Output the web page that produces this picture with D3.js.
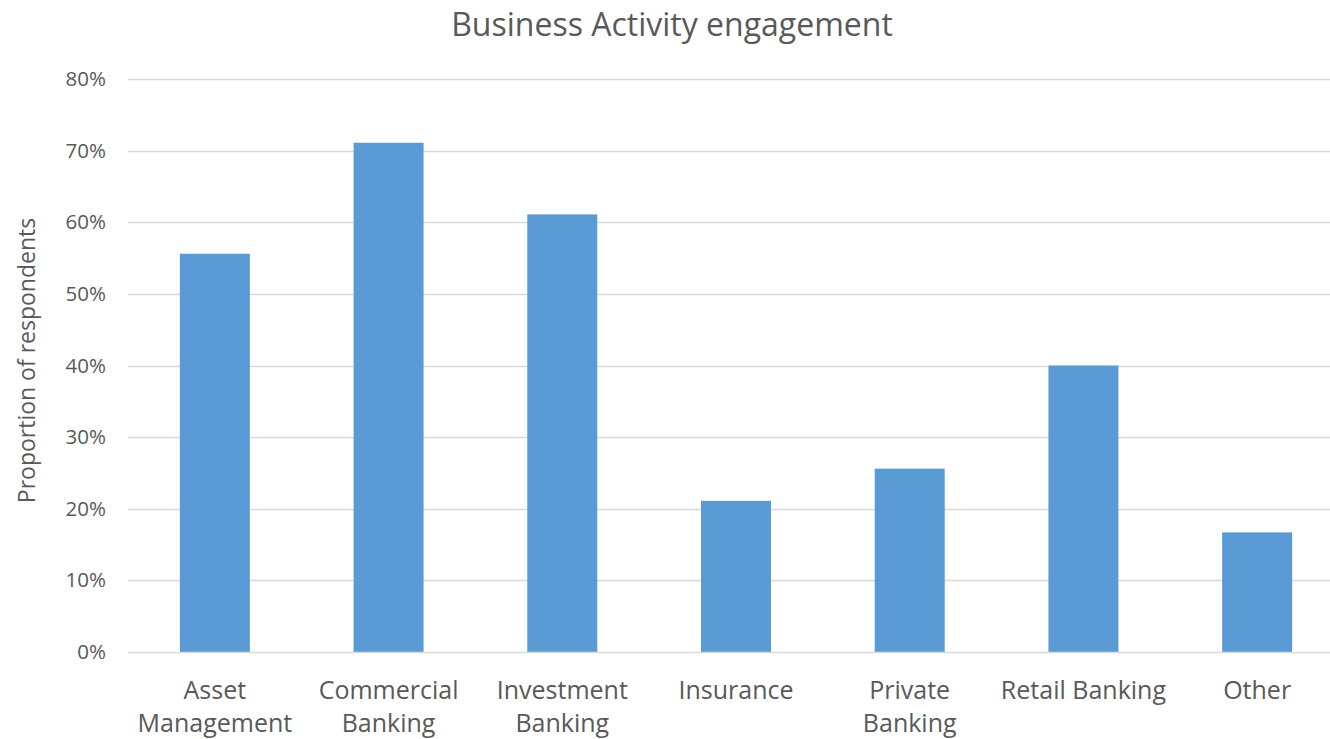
<!DOCTYPE html>
<html>
<head>
<meta charset="utf-8">
<script src="https://cdn.jsdelivr.net/npm/d3@7/dist/d3.min.js"></script>
<style>
  html, body { margin: 0; padding: 0; background: #fff; }
  svg { display: block; font-family: "Open Sans", "Noto Sans", sans-serif; }
  svg text { font-family: "Open Sans", "Noto Sans", sans-serif; }
</style>
</head>
<body>
<svg id="chart" width="1330" height="739"></svg>
<script>
// Share of respondents engaged in each business activity
const categories = ["Asset Management", "Commercial Banking", "Investment Banking", "Insurance", "Private Banking", "Retail Banking", "Other"];
const labelLines = [["Asset", "Management"], ["Commercial", "Banking"], ["Investment", "Banking"], ["Insurance"], ["Private", "Banking"], ["Retail Banking"], ["Other"]];
const values = [0.556, 0.711, 0.611, 0.211, 0.256, 0.400, 0.167];
const yTicks = [0, 0.1, 0.2, 0.3, 0.4, 0.5, 0.6, 0.7, 0.8];

const svg = d3.select("#chart");
const margin = { left: 128, right: -14, top: 79, bottom: 87 };
const W = 1330, H = 739;
const plotBottom = H - margin.bottom;
const fontStack = "\"Open Sans\", \"Noto Sans\", sans-serif";

const x = d3.scaleBand()
  .domain(categories)
  .range([margin.left, W - margin.right])
  .paddingInner(0.597)
  .paddingOuter(0.2985);

const y = d3.scaleLinear()
  .domain([0, 0.8])
  .range([plotBottom, margin.top]);

// Gridlines
svg.append("g")
  .selectAll("line")
  .data(yTicks.slice(1))
  .join("line")
  .attr("x1", margin.left)
  .attr("x2", W - margin.right)
  .attr("y1", d => Math.round(y(d)) + 0.5)
  .attr("y2", d => Math.round(y(d)) + 0.5)
  .attr("stroke", "#d9d9d9")
  .attr("stroke-width", 1.5);

// Bars
svg.append("g")
  .selectAll("rect")
  .data(categories)
  .join("rect")
  .attr("x", d => x(d))
  .attr("width", x.bandwidth())
  .attr("y", (d, i) => y(values[i]))
  .attr("height", (d, i) => plotBottom - y(values[i]))
  .attr("fill", "#5b9bd5");

// Baseline
svg.append("line")
  .attr("x1", margin.left)
  .attr("x2", W - margin.right)
  .attr("y1", plotBottom + 0.5)
  .attr("y2", plotBottom + 0.5)
  .attr("stroke", "#d9d9d9")
  .attr("stroke-width", 1.5);

// Y axis tick labels
const yAxis = d3.axisLeft(y)
  .tickValues(yTicks)
  .tickFormat(d3.format(".0%"))
  .tickSize(0)
  .tickPadding(0);
const yg = svg.append("g")
  .attr("transform", `translate(${margin.left - 22},0)`)
  .call(yAxis)
  .attr("font-family", fontStack)
  .attr("font-size", 20.5);
yg.select(".domain").remove();
yg.selectAll("text")
  .attr("fill", "#595959");

// X axis category labels
const xAxis = d3.axisBottom(x).tickSize(0).tickFormat("");
const xg = svg.append("g")
  .attr("transform", `translate(0,${plotBottom})`)
  .call(xAxis)
  .attr("font-family", fontStack)
  .attr("font-size", 25);
xg.select(".domain").remove();
xg.selectAll(".tick").each(function(d, i) {
  const t = d3.select(this).append("text")
    .attr("text-anchor", "middle")
    .attr("fill", "#595959");
  labelLines[i].forEach((line, k) => {
    t.append("tspan")
      .attr("x", 0)
      .attr("y", 47 + k * 33)
      .text(line);
  });
});

// Y axis title
svg.append("text")
  .attr("transform", `translate(35,${(margin.top + plotBottom) / 2 - 5}) rotate(-90)`)
  .attr("text-anchor", "middle")
  .attr("fill", "#595959")
  .style("font-size", "23px")
  .text("Proportion of respondents");

// Chart title
svg.append("text")
  .attr("x", 672)
  .attr("y", 36)
  .attr("text-anchor", "middle")
  .attr("fill", "#595959")
  .style("font-size", "32px")
  .text("Business Activity engagement");
</script>
</body>
</html>
